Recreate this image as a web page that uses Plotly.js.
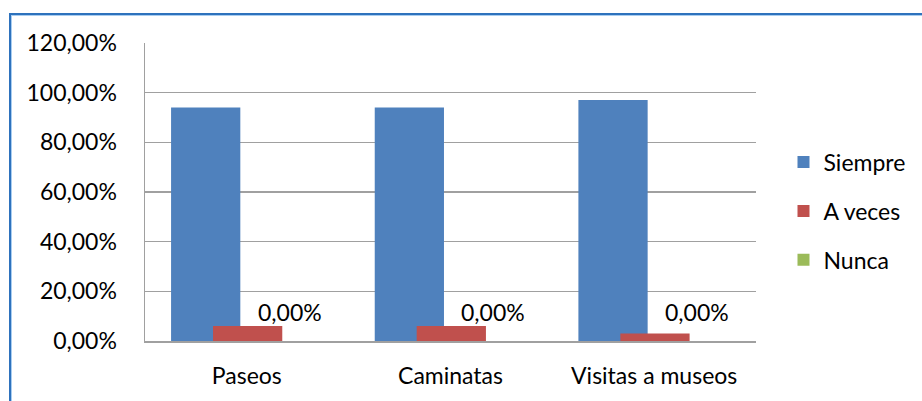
<!DOCTYPE html>
<html>
<head>
<meta charset="utf-8">
<script src="https://cdn.plot.ly/plotly-3.0.1.min.js"></script>
<style>
  html, body { margin: 0; padding: 0; background: #ffffff; }
  #wrap { position: relative; width: 922px; height: 401px; overflow: hidden; }
  #chart { position: absolute; left: 0; top: 0; width: 922px; height: 401px; }
  #frame { position: absolute; left: 9px; top: 13px; width: 940px; height: 420px;
           border-left: 2px solid #2e72bd; border-top: 2px solid #2e72bd;
           box-shadow: inset 1px 1px 0 #a9cdf0; pointer-events: none; z-index: 5; }
</style>
</head>
<body>
<div id="wrap">
  <div id="chart"></div>
  <div id="frame"></div>
</div>
<script>
const categories = ["Paseos", "Caminatas", "Visitas a museos"];
const siempre = [94, 94, 97];
const aveces = [6, 6, 3];
const nunca = [0, 0, 0];
const seriesNames = ["Siempre", "A veces", "Nunca"];
const colors = ["#4f81bd", "#c0504d", "#9bbb59"];

const fontFam = "Lato, 'Open Sans', sans-serif";
const fs = 23;
const barW = 0.34;
const offsets = [-0.372, -0.166, 0.041];
const allSeries = [siempre, aveces, nunca];

const traces = allSeries.map((vals, i) => ({
  type: "bar",
  name: seriesNames[i],
  x: categories,
  y: vals,
  width: barW,
  offset: offsets[i],
  marker: { color: colors[i], line: { width: 0 } },
  legendgroup: "g" + i,
  hoverinfo: "skip"
}));

const annotations = nunca.map((v, i) => ({
  x: i + offsets[2] + barW / 2,
  y: v,
  xref: "x", yref: "y",
  text: v.toFixed(2).replace(".", ",") + "%",
  showarrow: false,
  yanchor: "middle",
  yshift: 29,
  font: { family: fontFam, size: fs, color: "#000000" }
}));

const layout = {
  width: 922, height: 401,
  margin: { l: 145, r: 166, t: 43, b: 60, pad: 0 },
  paper_bgcolor: "#ffffff",
  plot_bgcolor: "#ffffff",
  barmode: "overlay",
  separators: ",.",
  showlegend: true,
  font: { family: fontFam, size: fs, color: "#000000" },
  legend: {
    x: 1.045, xanchor: "left",
    y: 0.436, yanchor: "middle",
    tracegroupgap: 16,
    font: { family: fontFam, size: fs, color: "#000000" },
    bgcolor: "rgba(0,0,0,0)"
  },
  xaxis: {
    type: "category",
    range: [-0.5, 2.5],
    showgrid: false,
    showline: true, linecolor: "#a0a0a0", linewidth: 1.5,
    ticks: "", ticklabelstandoff: 14,
    tickfont: { family: fontFam, size: fs, color: "#000000" },
    fixedrange: true
  },
  yaxis: {
    range: [0, 120],
    dtick: 20,
    tick0: 0,
    tickformat: ".2f",
    ticksuffix: "%",
    showgrid: true, gridcolor: "#a0a0a0", gridwidth: 1.5,
    showline: true, linecolor: "#a0a0a0", linewidth: 1.5,
    zeroline: false,
    ticks: "", ticklabelstandoff: 22,
    tickfont: { family: fontFam, size: fs, color: "#000000" },
    fixedrange: true
  },
  annotations: annotations
};

Plotly.newPlot("chart", traces, layout, { displayModeBar: false, staticPlot: true });
</script>
</body>
</html>
